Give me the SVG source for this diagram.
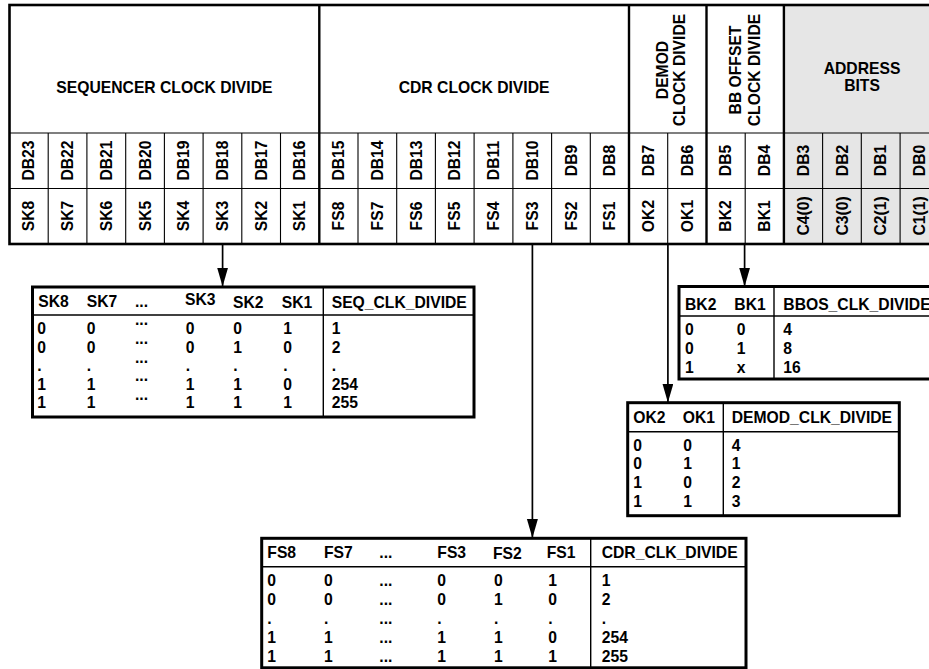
<svg xmlns="http://www.w3.org/2000/svg" width="929" height="669" viewBox="0 0 929 669">
<style>
.t{font-family:"Liberation Sans",Arial,sans-serif;font-weight:bold;font-size:15.7px;fill:#000}
.m{text-anchor:middle}
.fr{fill:none;stroke:#000;stroke-width:2.6}
.th{stroke:#000;stroke-width:1.1}
.sec{stroke:#000;stroke-width:2.4}
.tbl{fill:#fff;stroke:#000;stroke-width:3}
.dv{stroke:#000;stroke-width:1.4}
.cn{stroke:#000;stroke-width:1.7;fill:none}
</style>
<defs>
<marker id="ah" markerUnits="userSpaceOnUse" markerWidth="20" markerHeight="12" refX="19" refY="5.5" orient="auto" viewBox="0 0 20 12">
<path d="M0,0 L19,5.5 L0,11 z" fill="#000"/>
</marker>
</defs>
<rect width="929" height="669" fill="#fff"/>

<g id="register">
<rect x="783.9" y="5" width="160" height="239" fill="#e6e6e6"/>
<g id="grid">
<line class="th" x1="9.5" y1="133" x2="940" y2="133"/>
<line class="th" x1="9.5" y1="188.5" x2="940" y2="188.5"/>
<line class="th" x1="48.2" y1="133" x2="48.2" y2="244"/>
<line class="th" x1="86.9" y1="133" x2="86.9" y2="244"/>
<line class="th" x1="125.7" y1="133" x2="125.7" y2="244"/>
<line class="th" x1="164.4" y1="133" x2="164.4" y2="244"/>
<line class="th" x1="203.1" y1="133" x2="203.1" y2="244"/>
<line class="th" x1="241.8" y1="133" x2="241.8" y2="244"/>
<line class="th" x1="280.5" y1="133" x2="280.5" y2="244"/>
<line class="th" x1="358.0" y1="133" x2="358.0" y2="244"/>
<line class="th" x1="396.7" y1="133" x2="396.7" y2="244"/>
<line class="th" x1="435.4" y1="133" x2="435.4" y2="244"/>
<line class="th" x1="474.1" y1="133" x2="474.1" y2="244"/>
<line class="th" x1="512.9" y1="133" x2="512.9" y2="244"/>
<line class="th" x1="551.6" y1="133" x2="551.6" y2="244"/>
<line class="th" x1="590.3" y1="133" x2="590.3" y2="244"/>
<line class="th" x1="667.7" y1="133" x2="667.7" y2="244"/>
<line class="th" x1="745.2" y1="133" x2="745.2" y2="244"/>
<line class="th" x1="822.6" y1="133" x2="822.6" y2="244"/>
<line class="th" x1="861.3" y1="133" x2="861.3" y2="244"/>
<line class="th" x1="900.1" y1="133" x2="900.1" y2="244"/>
<line class="sec" x1="319.3" y1="5" x2="319.3" y2="244"/>
<line class="sec" x1="629.0" y1="5" x2="629.0" y2="244"/>
<line class="sec" x1="706.5" y1="5" x2="706.5" y2="244"/>
<line class="sec" x1="783.9" y1="5" x2="783.9" y2="244"/>
<rect class="fr" x="9.5" y="5" width="935" height="239"/>
</g>
<g id="section-labels">
<text class="t m" x="164.4" y="92.5">SEQUENCER CLOCK DIVIDE</text>
<text class="t m" x="474.1" y="92.5">CDR CLOCK DIVIDE</text>
<text class="t m" transform="translate(667.5,70) rotate(-90)">DEMOD</text>
<text class="t m" transform="translate(685,70) rotate(-90)">CLOCK DIVIDE</text>
<text class="t m" transform="translate(741,70) rotate(-90)">BB OFFSET</text>
<text class="t m" transform="translate(759.5,70) rotate(-90)">CLOCK DIVIDE</text>
<text class="t m" x="862" y="74">ADDRESS</text>
<text class="t m" x="862" y="91">BITS</text>
</g>
<g id="db-row">
<text class="t m" transform="translate(34.4,160.5) rotate(-90)">DB23</text>
<text class="t m" transform="translate(73.1,160.5) rotate(-90)">DB22</text>
<text class="t m" transform="translate(111.8,160.5) rotate(-90)">DB21</text>
<text class="t m" transform="translate(150.5,160.5) rotate(-90)">DB20</text>
<text class="t m" transform="translate(189.2,160.5) rotate(-90)">DB19</text>
<text class="t m" transform="translate(228,160.5) rotate(-90)">DB18</text>
<text class="t m" transform="translate(266.7,160.5) rotate(-90)">DB17</text>
<text class="t m" transform="translate(305.4,160.5) rotate(-90)">DB16</text>
<text class="t m" transform="translate(344.1,160.5) rotate(-90)">DB15</text>
<text class="t m" transform="translate(382.9,160.5) rotate(-90)">DB14</text>
<text class="t m" transform="translate(421.6,160.5) rotate(-90)">DB13</text>
<text class="t m" transform="translate(460.3,160.5) rotate(-90)">DB12</text>
<text class="t m" transform="translate(499,160.5) rotate(-90)">DB11</text>
<text class="t m" transform="translate(537.7,160.5) rotate(-90)">DB10</text>
<text class="t m" transform="translate(576.5,160.5) rotate(-90)">DB9</text>
<text class="t m" transform="translate(615.2,160.5) rotate(-90)">DB8</text>
<text class="t m" transform="translate(653.9,160.5) rotate(-90)">DB7</text>
<text class="t m" transform="translate(692.6,160.5) rotate(-90)">DB6</text>
<text class="t m" transform="translate(731.3,160.5) rotate(-90)">DB5</text>
<text class="t m" transform="translate(770,160.5) rotate(-90)">DB4</text>
<text class="t m" transform="translate(808.8,160.5) rotate(-90)">DB3</text>
<text class="t m" transform="translate(847.5,160.5) rotate(-90)">DB2</text>
<text class="t m" transform="translate(886.2,160.5) rotate(-90)">DB1</text>
<text class="t m" transform="translate(924.9,160.5) rotate(-90)">DB0</text>
</g>
<g id="bit-row">
<text class="t m" transform="translate(34.4,216) rotate(-90)">SK8</text>
<text class="t m" transform="translate(73.1,216) rotate(-90)">SK7</text>
<text class="t m" transform="translate(111.8,216) rotate(-90)">SK6</text>
<text class="t m" transform="translate(150.5,216) rotate(-90)">SK5</text>
<text class="t m" transform="translate(189.2,216) rotate(-90)">SK4</text>
<text class="t m" transform="translate(228,216) rotate(-90)">SK3</text>
<text class="t m" transform="translate(266.7,216) rotate(-90)">SK2</text>
<text class="t m" transform="translate(305.4,216) rotate(-90)">SK1</text>
<text class="t m" transform="translate(344.1,216) rotate(-90)">FS8</text>
<text class="t m" transform="translate(382.9,216) rotate(-90)">FS7</text>
<text class="t m" transform="translate(421.6,216) rotate(-90)">FS6</text>
<text class="t m" transform="translate(460.3,216) rotate(-90)">FS5</text>
<text class="t m" transform="translate(499,216) rotate(-90)">FS4</text>
<text class="t m" transform="translate(537.7,216) rotate(-90)">FS3</text>
<text class="t m" transform="translate(576.5,216) rotate(-90)">FS2</text>
<text class="t m" transform="translate(615.2,216) rotate(-90)">FS1</text>
<text class="t m" transform="translate(653.9,216) rotate(-90)">OK2</text>
<text class="t m" transform="translate(692.6,216) rotate(-90)">OK1</text>
<text class="t m" transform="translate(731.3,216) rotate(-90)">BK2</text>
<text class="t m" transform="translate(770,216) rotate(-90)">BK1</text>
<text class="t m" transform="translate(808.8,216) rotate(-90)">C4(0)</text>
<text class="t m" transform="translate(847.5,216) rotate(-90)">C3(0)</text>
<text class="t m" transform="translate(886.2,216) rotate(-90)">C2(1)</text>
<text class="t m" transform="translate(924.9,216) rotate(-90)">C1(1)</text>
</g>
</g>

<g id="connectors">
<line class="cn" x1="222.6" y1="244" x2="222.6" y2="286.5" marker-end="url(#ah)"/>
<line class="cn" x1="532.4" y1="244" x2="532.4" y2="538" marker-end="url(#ah)"/>
<line class="cn" x1="667.9" y1="244" x2="667.9" y2="402.5" marker-end="url(#ah)"/>
<line class="cn" x1="744.6" y1="244" x2="744.6" y2="286.5" marker-end="url(#ah)"/>
</g>

<g id="seq-table">
<rect class="tbl" x="32.5" y="287" width="441.5" height="130"/>
<line class="dv" x1="32.5" y1="315" x2="474" y2="315"/>
<line class="dv" x1="323.3" y1="287" x2="323.3" y2="417"/>
<text class="t" x="38.3" y="306.7">SK8</text>
<text class="t" x="86.7" y="306.7">SK7</text>
<text class="t" x="135" y="306.7">...</text>
<text class="t" x="185" y="305.3">SK3</text>
<text class="t" x="233" y="308">SK2</text>
<text class="t" x="281.7" y="308">SK1</text>
<text class="t" x="331.7" y="308">SEQ_CLK_DIVIDE</text>
<text class="t" x="37.3" y="334">0</text><text class="t" x="86.7" y="334">0</text><text class="t" x="135" y="325">...</text><text class="t" x="185.7" y="334">0</text><text class="t" x="233.3" y="334">0</text><text class="t" x="283.3" y="334">1</text><text class="t" x="331.7" y="334">1</text>
<text class="t" x="37.3" y="352.7">0</text><text class="t" x="86.7" y="352.7">0</text><text class="t" x="135" y="343.5">...</text><text class="t" x="185.7" y="352.7">0</text><text class="t" x="233.3" y="352.7">1</text><text class="t" x="283.3" y="352.7">0</text><text class="t" x="331.7" y="352.7">2</text>
<text class="t" x="37.3" y="370.7">.</text><text class="t" x="86.7" y="370.7">.</text><text class="t" x="135" y="362.5">...</text><text class="t" x="185.7" y="370.7">.</text><text class="t" x="233.3" y="370.7">.</text><text class="t" x="283.3" y="370.7">.</text><text class="t" x="331.7" y="370.7">.</text>
<text class="t" x="37.3" y="390">1</text><text class="t" x="86.7" y="390">1</text><text class="t" x="135" y="380.5">...</text><text class="t" x="185.7" y="390">1</text><text class="t" x="233.3" y="390">1</text><text class="t" x="283.3" y="390">0</text><text class="t" x="331.7" y="390">254</text>
<text class="t" x="37.3" y="408.3">1</text><text class="t" x="86.7" y="408.3">1</text><text class="t" x="135" y="399.5">...</text><text class="t" x="185.7" y="408.3">1</text><text class="t" x="233.3" y="408.3">1</text><text class="t" x="283.3" y="408.3">1</text><text class="t" x="331.7" y="408.3">255</text>
</g>

<g id="bbos-table">
<rect class="tbl" x="679" y="286.5" width="300" height="92.5"/>
<line class="dv" x1="679" y1="316" x2="979" y2="316"/>
<line class="dv" x1="774" y1="286.5" x2="774" y2="379"/>
<text class="t" x="685" y="310">BK2</text>
<text class="t" x="734.3" y="310">BK1</text>
<text class="t" x="783.3" y="310">BBOS_CLK_DIVIDE</text>
<text class="t" x="685" y="335">0</text><text class="t" x="736.7" y="335">0</text><text class="t" x="783.3" y="335">4</text>
<text class="t" x="685" y="354">0</text><text class="t" x="736.7" y="354">1</text><text class="t" x="783.3" y="354">8</text>
<text class="t" x="685" y="372.7">1</text><text class="t" x="736.7" y="372.7">x</text><text class="t" x="783.3" y="372.7">16</text>
</g>

<g id="demod-table">
<rect class="tbl" x="627.7" y="402.7" width="271.6" height="113"/>
<line class="dv" x1="627.7" y1="431.7" x2="899.3" y2="431.7"/>
<line class="dv" x1="723.3" y1="402.7" x2="723.3" y2="515.7"/>
<text class="t" x="633.3" y="423.3">OK2</text>
<text class="t" x="682.7" y="423.3">OK1</text>
<text class="t" x="731.7" y="423.3">DEMOD_CLK_DIVIDE</text>
<text class="t" x="633.3" y="451">0</text><text class="t" x="683.3" y="451">0</text><text class="t" x="731.7" y="451">4</text>
<text class="t" x="633.3" y="469.3">0</text><text class="t" x="683.3" y="469.3">1</text><text class="t" x="731.7" y="469.3">1</text>
<text class="t" x="633.3" y="488.3">1</text><text class="t" x="683.3" y="488.3">0</text><text class="t" x="731.7" y="488.3">2</text>
<text class="t" x="633.3" y="506.7">1</text><text class="t" x="683.3" y="506.7">1</text><text class="t" x="731.7" y="506.7">3</text>
</g>

<g id="cdr-table">
<rect class="tbl" x="261.7" y="538.3" width="484.3" height="129.5"/>
<line class="dv" x1="261.7" y1="566.7" x2="746" y2="566.7"/>
<line class="dv" x1="590.7" y1="538.3" x2="590.7" y2="667.8"/>
<text class="t" x="267.3" y="558.3">FS8</text>
<text class="t" x="324" y="558.3">FS7</text>
<text class="t" x="379.3" y="558.3">...</text>
<text class="t" x="437.3" y="558.3">FS3</text>
<text class="t" x="493" y="559.3">FS2</text>
<text class="t" x="546.7" y="558.3">FS1</text>
<text class="t" x="601.7" y="558.3">CDR_CLK_DIVIDE</text>
<text class="t" x="267.3" y="586">0</text><text class="t" x="324" y="586">0</text><text class="t" x="379.3" y="586">...</text><text class="t" x="437.3" y="586">0</text><text class="t" x="494" y="586">0</text><text class="t" x="548.3" y="586">1</text><text class="t" x="601.7" y="586">1</text>
<text class="t" x="267.3" y="604.5">0</text><text class="t" x="324" y="604.5">0</text><text class="t" x="379.3" y="604.5">...</text><text class="t" x="437.3" y="604.5">0</text><text class="t" x="494" y="604.5">1</text><text class="t" x="548.3" y="604.5">0</text><text class="t" x="601.7" y="604.5">2</text>
<text class="t" x="267.3" y="623.5">.</text><text class="t" x="324" y="623.5">.</text><text class="t" x="379.3" y="623.5">...</text><text class="t" x="437.3" y="623.5">.</text><text class="t" x="494" y="623.5">.</text><text class="t" x="548.3" y="623.5">.</text><text class="t" x="601.7" y="623.5">.</text>
<text class="t" x="267.3" y="642.5">1</text><text class="t" x="324" y="642.5">1</text><text class="t" x="379.3" y="642.5">...</text><text class="t" x="437.3" y="642.5">1</text><text class="t" x="494" y="642.5">1</text><text class="t" x="548.3" y="642.5">0</text><text class="t" x="601.7" y="642.5">254</text>
<text class="t" x="267.3" y="661.5">1</text><text class="t" x="324" y="661.5">1</text><text class="t" x="379.3" y="661.5">...</text><text class="t" x="437.3" y="661.5">1</text><text class="t" x="494" y="661.5">1</text><text class="t" x="548.3" y="661.5">1</text><text class="t" x="601.7" y="661.5">255</text>
</g>
</svg>
